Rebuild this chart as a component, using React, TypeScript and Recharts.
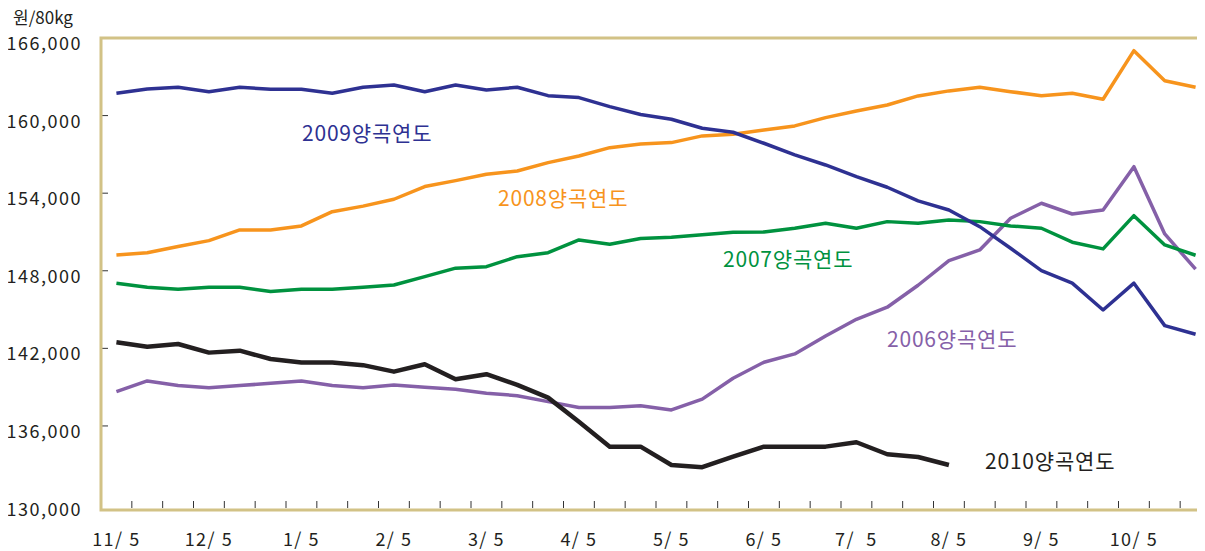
import React from 'react'
import { LineChart, Line, XAxis, YAxis } from 'recharts'

const GOLD = '#d2c286'
const TEXT = '#231f20'
const FONT = '"Noto Sans CJK KR", "Noto Sans", sans-serif'

// x labels, one every 3 points (5th, 15th, 25th of each month)
const MONTHS = ['11/ 5', '12/ 5', '1/ 5', '2/ 5', '3/ 5', '4/ 5', '5/ 5', '6/ 5', '7/  5', '8/ 5', '9/ 5', '10/ 5']
const Y_TICKS = [130000, 136000, 142000, 148000, 154000, 160000, 166000]

const Y2006 = [
  138650, 139480, 139120, 138960, 139120, 139300, 139480, 139120, 138960, 139170, 138990, 138840,
  138530, 138340, 137880, 137420, 137420, 137570, 137240, 138070, 139690, 140930, 141570, 142960,
  144250, 145180, 146880, 148780, 149610, 152060, 153220, 152390, 152700, 156050, 150850, 148120,
]
const Y2007 = [
  147040, 146730, 146570, 146730, 146730, 146390, 146570, 146570, 146730, 146900, 147550, 148200,
  148320, 149090, 149400, 150380, 150050, 150490, 150590, 150790, 150980, 151000, 151290, 151680,
  151290, 151800, 151680, 151930, 151800, 151470, 151290, 150210, 149690, 152260, 150000, 149200,
]
const Y2008 = [
  149220, 149400, 149870, 150330, 151160, 151160, 151470, 152570, 153000, 153530, 154510, 154970,
  155470, 155720, 156360, 156880, 157520, 157800, 157910, 158430, 158560, 158890, 159200, 159840,
  160360, 160820, 161520, 161910, 162190, 161850, 161540, 161730, 161260, 165020, 162700, 162190,
]
const Y2009 = [
  161730, 162060, 162190, 161850, 162190, 162040, 162040, 161730, 162190, 162370, 161850, 162370,
  161980, 162190, 161540, 161390, 160690, 160080, 159720, 159020, 158710, 157860, 156960, 156180,
  155280, 154460, 153400, 152700, 151410, 149740, 148010, 147040, 144970, 147040, 143760, 143090,
]
const Y2010 = [
  142470, 142130, 142340, 141670, 141820, 141180, 140900, 140900, 140700, 140200, 140770, 139610,
  140000, 139170, 138190, 136330, 134400, 134400, 132980, 132810, 133630, 134400, 134400, 134400,
  134740, 133810, 133600, 132980,
]

const data = Y2009.map((v, i) => ({
  x: i + 0.5,
  y2006: Y2006[i],
  y2007: Y2007[i],
  y2008: Y2008[i],
  y2009: v,
  y2010: i < Y2010.length ? Y2010[i] : null,
}))

// plot runs a few px past the right edge of the window, like the original
const W = 1203
const VIEW_W = 1197
const H = 543
const TOP = 30
const X_AXIS_H = 41
const Y_AXIS_W = 93
const BAND = (W - Y_AXIS_W) / data.length

const XTick = (props: any) => {
  const { x, y, payload } = props
  const i = Math.round(payload.value - 0.5)
  return (
    <g>
      {i < data.length - 1 && (
        <line x1={x + BAND / 2} x2={x + BAND / 2} y1={y - 2} y2={y - 9} stroke="#333" strokeWidth={1} />
      )}
      {i % 3 === 0 && (
        <text x={x} y={y + 28} textAnchor="middle" dominantBaseline="central" fill={TEXT}
          fontSize={18} fontFamily={FONT} letterSpacing={1.5} style={{ whiteSpace: 'pre' }}>
          {MONTHS[i / 3]}
        </text>
      )}
    </g>
  )
}

const YTick = (props: any) => {
  const { x, y, payload } = props
  const v = payload.value
  return (
    <g>
      {v > 130000 && v < 166000 && <line x1={x} x2={x + 7} y1={y} y2={y} stroke="#333" strokeWidth={1} />}
      <text x={x - 19} y={y + 4} textAnchor="end" dominantBaseline="central" fill={TEXT}
        fontSize={18} fontFamily={FONT} letterSpacing={1.5}>
        {v.toLocaleString('en-US')}
      </text>
    </g>
  )
}

// series names written next to the lines (page coords minus the 8px body margin)
const NAMES = [
  { text: '2009양곡연도', color: '#2e3192', x: 294, y: 124 },
  { text: '2008양곡연도', color: '#f7941d', x: 490, y: 189 },
  { text: '2007양곡연도', color: '#00923f', x: 715, y: 250 },
  { text: '2006양곡연도', color: '#8560a8', x: 879, y: 330 },
  { text: '2010양곡연도', color: TEXT, x: 977, y: 452 },
]

const bottom = H - X_AXIS_H

export default function App() {
  return (
    <div style={{ position: 'relative', width: VIEW_W, height: H, background: '#fff' }}>
      <div style={{ width: VIEW_W, height: H, overflowX: 'clip', overflowY: 'visible' }}>
        <LineChart width={W} height={H} data={data} margin={{ top: TOP, right: 0, bottom: 0, left: 0 }}>
          <XAxis
            type="number"
            dataKey="x"
            domain={[0, data.length]}
            ticks={data.map((d) => d.x)}
            interval={0}
            tickLine={false}
            tickSize={0}
            tickMargin={0}
            tick={<XTick />}
            height={X_AXIS_H}
            axisLine={false}
          />
          <YAxis
            type="number"
            domain={[129500, 166000]}
            ticks={Y_TICKS}
            interval={0}
            width={Y_AXIS_W}
            tickLine={false}
            tickSize={0}
            tickMargin={0}
            tick={<YTick />}
            axisLine={false}
            allowDataOverflow
          />
          <Line type="linear" dataKey="y2006" stroke="#8560a8" strokeWidth={3.5} dot={false} isAnimationActive={false} strokeLinejoin="round" />
          <Line type="linear" dataKey="y2007" stroke="#00923f" strokeWidth={3.5} dot={false} isAnimationActive={false} strokeLinejoin="round" />
          <Line type="linear" dataKey="y2008" stroke="#f7941d" strokeWidth={3.5} dot={false} isAnimationActive={false} strokeLinejoin="round" />
          <Line type="linear" dataKey="y2009" stroke="#2e3192" strokeWidth={3.5} dot={false} isAnimationActive={false} strokeLinejoin="round" />
          <Line type="linear" dataKey="y2010" stroke="#231f20" strokeWidth={4.5} dot={false} isAnimationActive={false} strokeLinejoin="round" />
        </LineChart>
      </div>
      <svg width={VIEW_W} height={H} style={{ position: 'absolute', left: 0, top: 0, pointerEvents: 'none', overflow: 'visible' }}>
        {/* open frame of the plot area: top, left, bottom */}
        <path
          d={`M ${VIEW_W} ${TOP} H ${Y_AXIS_W} V ${bottom} H ${VIEW_W}`}
          fill="none"
          stroke={GOLD}
          strokeWidth={3}
        />
        <text x={5} y={8} dominantBaseline="central" fill={TEXT} fontSize={17} fontFamily={FONT}>
          원/80kg
        </text>
        {NAMES.map((n) => (
          <text key={n.text} x={n.x} y={n.y} dominantBaseline="central" fill={n.color} fontSize={21} fontFamily={FONT} letterSpacing={0.8}>
            {n.text}
          </text>
        ))}
      </svg>
    </div>
  )
}
